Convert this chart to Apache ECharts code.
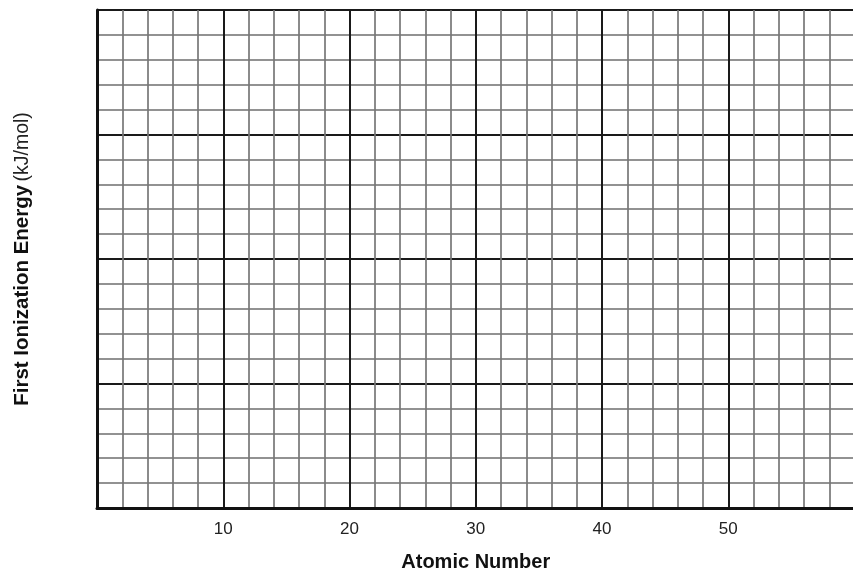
<!DOCTYPE html>
<html>
<head>
<meta charset="utf-8">
<script src="https://cdn.jsdelivr.net/npm/echarts@6/dist/echarts.min.js"></script>
<style>
html,body{margin:0;padding:0;background:#fff;}
#chart{width:853px;height:569px;}
</style>
</head>
<body>
<div id="chart"></div>
<script>
// Axis ranges and tick labels
const xRange = [0, 60];
const yRange = [0, 20];
const xMinorStep = 2;
const xMajorStep = 10;
const yMinorStep = 1;
const yMajorStep = 5;
const xTickLabels = [10, 20, 30, 40, 50];
const xTitle = 'Atomic Number';
const yTitleBold = 'First Ionization Energy';
const yTitleUnit = '(kJ/mol)';
const seriesData = []; // blank worksheet grid: no plotted values

const FONT = 'Liberation Sans, Arial, Helvetica, sans-serif';
const chart = echarts.init(document.getElementById('chart'));
chart.setOption({
  animation: false,
  backgroundColor: '#fff',
  grid: { left: 97, right: -1.5, top: 10, bottom: 61, containLabel: false, outerBoundsMode: 'none' },
  xAxis: [
    {
      type: 'value', position: 'bottom', min: xRange[0], max: xRange[1], interval: xMinorStep,
      axisLine: { show: false }, axisTick: { show: false }, axisLabel: { show: false },
      splitLine: { show: true, lineStyle: { color: '#777', width: 1.7 } }
    },
    {
      type: 'value', position: 'bottom', min: xRange[0], max: xRange[1], interval: xMajorStep,
      axisLine: { show: true, onZero: false, lineStyle: { color: '#111', width: 3 } },
      axisTick: { show: false },
      axisLabel: {
        show: true, margin: 13, color: '#222', fontSize: 17, fontFamily: FONT,
        formatter: v => (xTickLabels.indexOf(v) >= 0 ? String(v) : '')
      },
      splitLine: { show: true, lineStyle: { color: '#1a1a1a', width: 2 } },
      name: xTitle, nameLocation: 'middle', nameGap: 44,
      nameTextStyle: { fontSize: 20, fontWeight: 'bold', color: '#111', fontFamily: FONT }
    }
  ],
  yAxis: [
    {
      type: 'value', position: 'left', min: yRange[0], max: yRange[1], interval: yMinorStep,
      axisLine: { show: false }, axisTick: { show: false }, axisLabel: { show: false },
      splitLine: { show: true, lineStyle: { color: '#929292', width: 2 } }
    },
    {
      type: 'value', position: 'left', min: yRange[0], max: yRange[1], interval: yMajorStep,
      axisLine: { show: true, onZero: false, lineStyle: { color: '#111', width: 3 } },
      axisTick: { show: false }, axisLabel: { show: false },
      splitLine: { show: true, lineStyle: { color: '#1a1a1a', width: 2 } },
      name: '{b|' + yTitleBold + '} {n|' + yTitleUnit + '}',
      nameLocation: 'middle', nameGap: 64,
      nameTextStyle: {
        fontFamily: FONT,
        rich: {
          b: { fontSize: 20.5, fontWeight: 'bold', color: '#111', fontFamily: FONT },
          n: { fontSize: 19.5, fontWeight: 'normal', color: '#222', fontFamily: FONT }
        }
      }
    }
  ],
  series: [
    { type: 'line', xAxisIndex: 1, yAxisIndex: 1, data: seriesData }
  ]
});
</script>
</body>
</html>
